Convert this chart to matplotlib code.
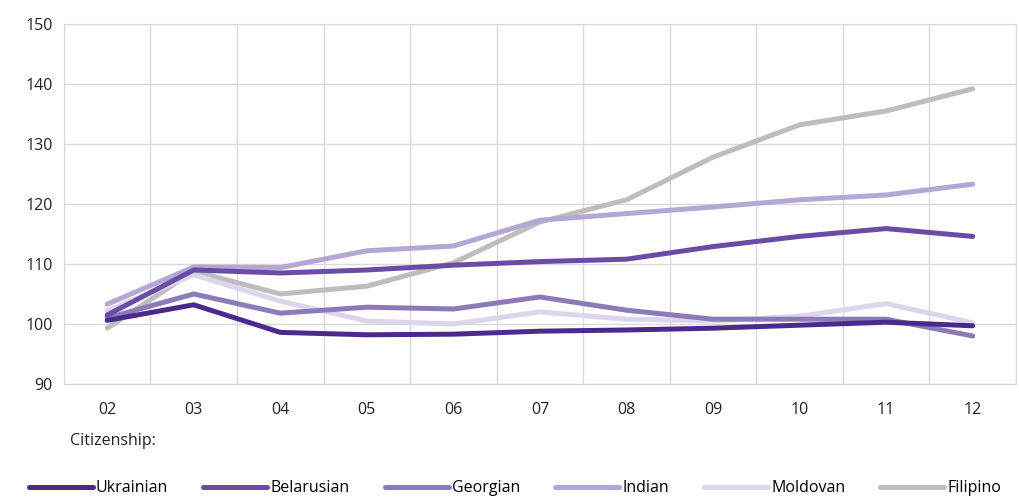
import numpy as np
import matplotlib.pyplot as plt

plt.rcParams['font.family'] = ['Open Sans', 'DejaVu Sans']

years = ['02', '03', '04', '05', '06', '07', '08', '09', '10', '11', '12']

ukrainian = [100.6, 103.2, 98.6, 98.2, 98.3, 98.8, 99.0, 99.3, 99.8, 100.3, 99.7]
belarusian = [101.5, 109.0, 108.5, 109.0, 109.8, 110.4, 110.8, 112.9, 114.6, 115.9, 114.6]
georgian = [101.0, 105.0, 101.8, 102.8, 102.5, 104.5, 102.3, 100.8, 100.8, 100.8, 98.0]
indian = [103.3, 109.5, 109.4, 112.2, 113.0, 117.3, 118.4, 119.5, 120.7, 121.5, 123.3]
moldovan = [102.2, 108.2, 103.8, 100.5, 100.0, 102.0, 100.8, 100.5, 101.3, 103.4, 100.2]
filipino = [99.3, 108.8, 105.0, 106.3, 110.2, 117.0, 120.7, 127.8, 133.2, 135.5, 139.2]

series = [
    ('Ukrainian', ukrainian, '#4b2a8c'),
    ('Belarusian', belarusian, '#6a4ba6'),
    ('Georgian', georgian, '#8d7ab8'),
    ('Indian', indian, '#b4a7d5'),
    ('Moldovan', moldovan, '#dcd6ec'),
    ('Filipino', filipino, '#bdbdbd'),
]

fig = plt.figure(figsize=(10.2, 4.97), dpi=100)
ax = fig.add_axes([0.0627, 0.2274, 0.9333, 0.7243])

x = np.arange(len(years))
# draw lightest first so darker lines sit on top like the original
for name, vals, color in reversed(series):
    ax.plot(x, vals, color=color, linewidth=3.6, label=name,
            solid_capstyle='round', solid_joinstyle='round')

ax.set_xlim(-0.5, len(years) - 0.5)
ax.set_ylim(90, 150)
ax.set_yticks(np.arange(90, 151, 10))
ax.set_xticks(x)
ax.set_xticklabels(years)

# vertical gridlines sit between categories
ax.set_xticks(np.arange(-0.5, len(years), 1), minor=True)
ax.grid(which='minor', axis='x', color='#d9d9d9', linewidth=1)
ax.grid(which='major', axis='y', color='#d9d9d9', linewidth=1)
ax.set_axisbelow(True)

for s in ax.spines.values():
    s.set_color('#d9d9d9')

ax.tick_params(axis='both', which='both', length=0, labelsize=11.5, colors='#222222')
ax.tick_params(axis='x', pad=13)
ax.tick_params(axis='y', pad=8)

fig.text(0.069, 0.105, 'Citizenship:', fontsize=11.5, color='#222222')

handles, labels = ax.get_legend_handles_labels()
handles, labels = handles[::-1], labels[::-1]
fig.legend(handles, labels, loc='lower center', bbox_to_anchor=(0.505, -0.005),
           ncol=6, frameon=False, fontsize=11.5, handlelength=4.0,
           handletextpad=0.2, columnspacing=2.2, borderaxespad=0.0,
           borderpad=0.2)

fig.savefig('out.png', dpi=100)
